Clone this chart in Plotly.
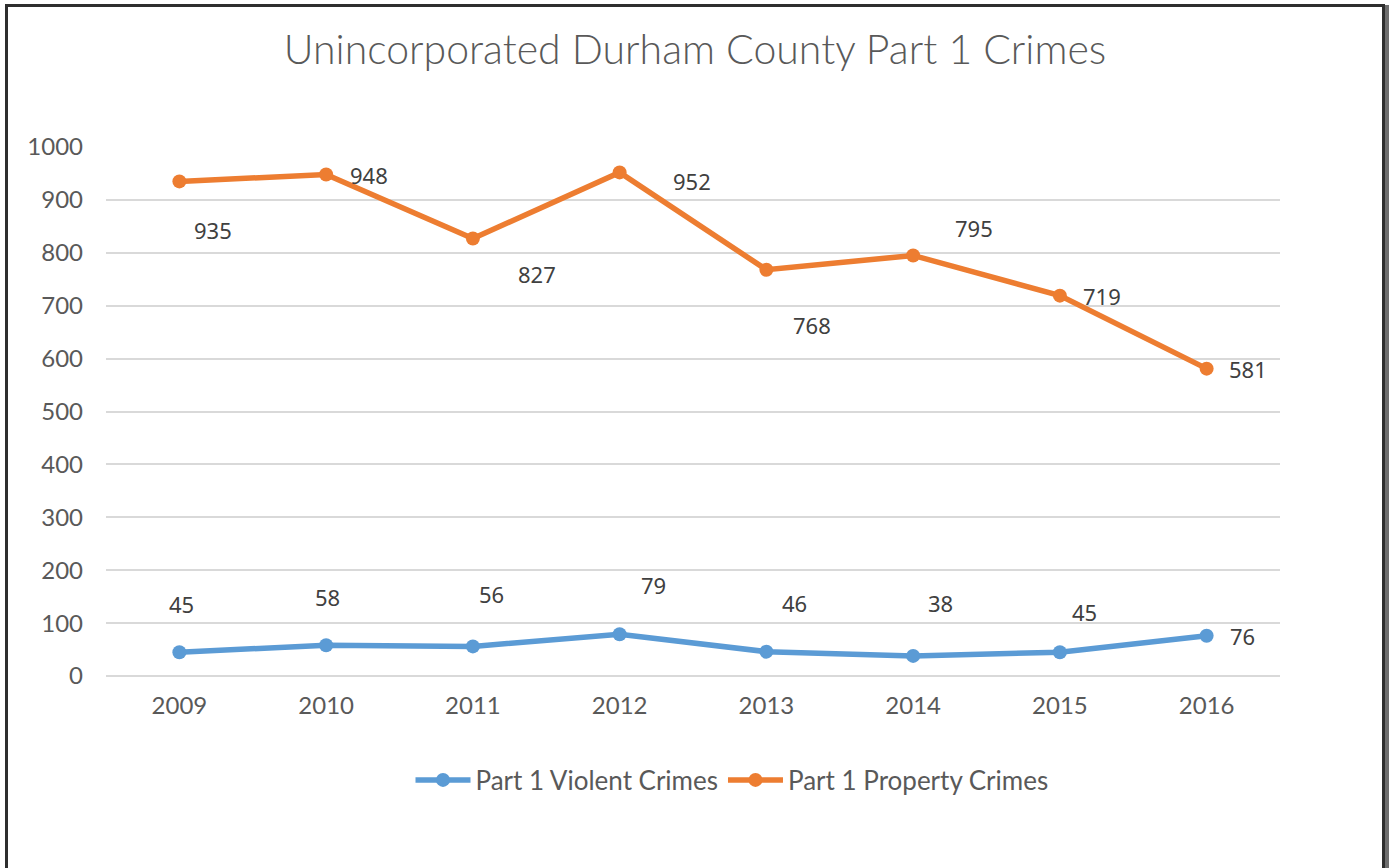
import plotly.graph_objects as go

years = ["2009", "2010", "2011", "2012", "2013", "2014", "2015", "2016"]
violent = [45, 58, 56, 79, 46, 38, 45, 76]
property_ = [935, 948, 827, 952, 768, 795, 719, 581]

# label offsets in pixels (dx right, dy up)
prop_dx = [34, 43, 64, 72, 46, 61, 42, 41]
prop_dy = [-49, 0, -35, -9, -55, 27, 0, 0]
viol_dx = [2, 1, 19, 34, 28, 27, 25, 36]
viol_dy = [48, 48, 52, 49, 49, 53, 40, 0]

BLUE = "#5B9BD5"
ORANGE = "#ED7D31"
TXT = "#595959"
LBL = "#404040"

fig = go.Figure()
fig.add_trace(go.Scatter(x=years, y=violent, name="Part 1 Violent Crimes", mode="lines+markers",
                         line=dict(color=BLUE, width=5.5), marker=dict(color=BLUE, size=14)))
fig.add_trace(go.Scatter(x=years, y=property_, name="Part 1 Property Crimes", mode="lines+markers",
                         line=dict(color=ORANGE, width=5.5), marker=dict(color=ORANGE, size=14)))

anns = []
for i in range(len(years)):
    anns.append(dict(x=i, y=property_[i], xref="x", yref="y", text=str(property_[i]), showarrow=False,
                     xshift=prop_dx[i], yshift=prop_dy[i],
                     font=dict(family="Noto Sans", size=22, color=LBL)))
    anns.append(dict(x=i, y=violent[i], xref="x", yref="y", text=str(violent[i]), showarrow=False,
                     xshift=viol_dx[i], yshift=viol_dy[i],
                     font=dict(family="Noto Sans", size=22, color=LBL)))

W, H = 1389, 868
# screen coords of plot area
PL, PR, PT, PB = 106, 1280, 147, 676
L, T, R, B = PL, PT, W - PR, H - PB
pw, ph = PR - PL, PB - PT


def px(xabs):
    return (xabs - PL) / pw


def py(yabs):
    return (PB - yabs) / ph


shapes = [
    # shadow on the right side of the frame
    dict(type="rect", xref="paper", yref="paper", x0=px(1384.5), x1=px(1389), y0=py(5), y1=py(868),
         fillcolor="#6e6e6e", line=dict(width=0), layer="above"),
    # frame
    dict(type="line", xref="paper", yref="paper", x0=px(6.5), x1=px(6.5), y0=py(4), y1=py(868),
         line=dict(color="#2e2e2e", width=3), layer="above"),
    dict(type="line", xref="paper", yref="paper", x0=px(5), x1=px(1384.5), y0=py(5.5), y1=py(5.5),
         line=dict(color="#2e2e2e", width=3), layer="above"),
    dict(type="line", xref="paper", yref="paper", x0=px(1383.5), x1=px(1383.5), y0=py(4), y1=py(868),
         line=dict(color="#2e2e2e", width=3), layer="above"),
]

fig.update_layout(
    width=W, height=H,
    margin=dict(l=L, r=R, t=T, b=B),
    paper_bgcolor="white", plot_bgcolor="white",
    title=dict(text="Unincorporated Durham County Part 1 Crimes", x=px(695), xanchor="center",
               xref="paper", y=1 - 50 / H, yanchor="middle",
               font=dict(family="Lato", size=41, color=TXT, weight=300)),
    xaxis=dict(type="category", range=[-0.5, 7.5], showgrid=False, zeroline=False,
               showline=False, ticks="", tickfont=dict(family="Lato", size=24, color=TXT),
               ticklabelstandoff=13),
    yaxis=dict(range=[0, 1000], dtick=100, showgrid=True, gridcolor="#D9D9D9", gridwidth=1.5,
               zeroline=True, zerolinecolor="#D9D9D9", zerolinewidth=1.5, showline=False, ticks="",
               tickfont=dict(family="Lato", size=24, color=TXT), ticklabelstandoff=22),
    legend=dict(orientation="h", x=px(732), xanchor="center", y=py(780), yanchor="middle",
                font=dict(family="Lato", size=26, color=TXT), itemwidth=55),
    annotations=anns,
    shapes=shapes,
    showlegend=True,
)

fig.write_html(
    "out.html",
    config={"displayModeBar": False},
    post_script="document.body.style.margin='0';document.body.style.overflow='hidden';",
)
